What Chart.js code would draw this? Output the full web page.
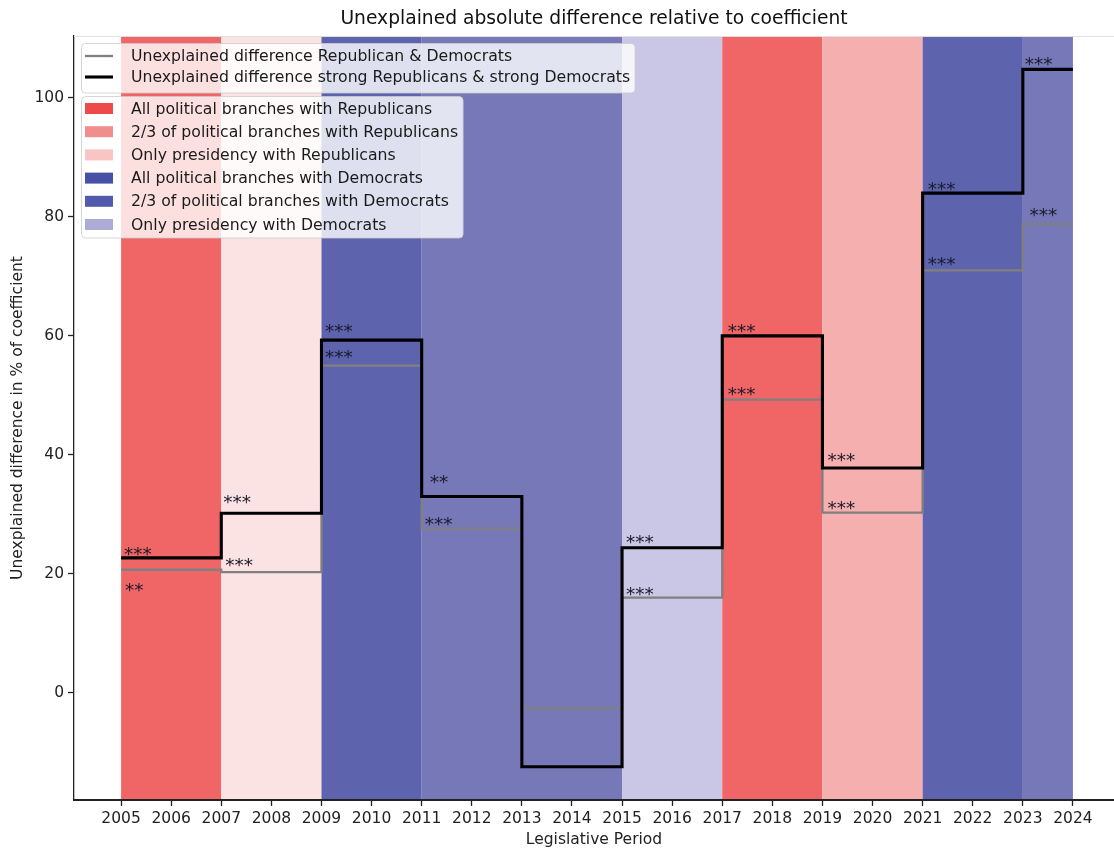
<!DOCTYPE html>
<html>
<head>
<meta charset="utf-8">
<script src="https://cdn.jsdelivr.net/npm/chart.js@4.4.1/dist/chart.umd.min.js"></script>
<style>
  html, body { margin: 0; padding: 0; background: #ffffff; }
  canvas { display: block; }
</style>
</head>
<body>
<canvas id="chart" width="1114" height="850"></canvas>
<script>
// Legislative periods (start year of each step) and the final end year
const periodStarts = [2005, 2007, 2009, 2011, 2013, 2015, 2017, 2019, 2021, 2023];
const periodEnd = 2024;

// Unexplained difference, % of coefficient
const diffAll = [20.7, 20.3, 55.0, 27.6, -2.6, 16.0, 49.3, 30.3, 71.0, 78.8];
const diffStrong = [22.7, 30.2, 59.3, 33.0, -12.4, 24.4, 60.0, 37.8, 84.0, 104.8];

// Significance stars per period
const starsAll = ['**', '***', '***', '***', '', '***', '***', '***', '***', '***'];
const starsStrong = ['***', '***', '***', '**', '', '***', '***', '***', '***', '***'];

// Axis tick values
const yearTicks = [2005, 2006, 2007, 2008, 2009, 2010, 2011, 2012, 2013, 2014,
                   2015, 2016, 2017, 2018, 2019, 2020, 2021, 2022, 2023, 2024];
const valueTicks = [0, 20, 40, 60, 80, 100];

// Political control bands
const bandStarts = [2005, 2007, 2009, 2011, 2015, 2017, 2019, 2021, 2023];
const bandEnds   = [2007, 2009, 2011, 2015, 2017, 2019, 2021, 2023, 2024];
const bandKinds  = [0, 2, 3, 4, 5, 0, 1, 3, 4];
const kindLabels = [
  'All political branches with Republicans',
  '2/3 of political branches with Republicans',
  'Only presidency with Republicans',
  'All political branches with Democrats',
  '2/3 of political branches with Democrats',
  'Only presidency with Democrats'
];

const seriesLabels = [
  'Unexplained difference Republican & Democrats',
  'Unexplained difference strong Republicans & strong Democrats'
];

// ---- styling ----
const FONT = 'DejaVu Sans';
const bandFill   = ['#F06565', '#F6AFAF', '#FCE3E3', '#5D63AD', '#7678B8', '#C9C7E5'];
const swatchFill = ['#EE4A4A', '#F28D8D', '#F9C4C4', '#4651A5', '#525AAB', '#ACACD7'];
const seriesColor = ['#808080', '#000000'];
const seriesWidth = [2.3, 3.1];

// fine placement of the star labels: [dx, dy] in px from the step start
const starNudgeAll = [[5, 15.7], [5, -11.7], [4.5, -13], [4, -9.7], null, [5, -8.7], [6.5, -10], [6, -9], [6, -11.4], [7.6, -13.3]];
const starNudgeStrong = [[4, -9], [3, -16], [4.5, -14], [9, -19.4], null, [5, -10], [6.5, -10], [6, -12.7], [6, -9.3], [3, -10.3]];

function stepPoints(values) {
  const pts = periodStarts.map((x, i) => ({ x: x, y: values[i] }));
  pts.push({ x: periodEnd, y: values[values.length - 1] });
  return pts;
}

const bandsPlugin = {
  id: 'bands',
  beforeDraw(chart) {
    const { ctx, chartArea, scales } = chart;
    ctx.save();
    ctx.fillStyle = '#ffffff';
    ctx.fillRect(0, 0, chart.width, chart.height);
    for (let i = 0; i < bandStarts.length; i++) {
      const x0 = scales.x.getPixelForValue(bandStarts[i]);
      const x1 = scales.x.getPixelForValue(bandEnds[i]);
      ctx.fillStyle = bandFill[bandKinds[i]];
      ctx.fillRect(x0, chartArea.top, x1 - x0, chartArea.bottom - chartArea.top);
    }
    ctx.restore();
  },
  afterDatasetsDraw(chart) {
    const { ctx, chartArea, scales } = chart;
    ctx.save();
    // faint frame line along the top of the plot
    ctx.strokeStyle = '#e2e2e2';
    ctx.lineWidth = 1;
    ctx.beginPath();
    ctx.moveTo(chartArea.left, chartArea.top + 0.5);
    ctx.lineTo(chartArea.right, chartArea.top + 0.5);
    ctx.stroke();

    // significance stars
    const fs = 18.5;
    ctx.font = fs + 'px "' + FONT + '"';
    ctx.fillStyle = '#1a1a2a';
    ctx.textAlign = 'left';
    ctx.textBaseline = 'alphabetic';
    const drawStars = (values, stars, nudge) => {
      for (let i = 0; i < periodStarts.length; i++) {
        if (!stars[i] || !nudge[i]) continue;
        const x = scales.x.getPixelForValue(periodStarts[i]) + nudge[i][0];
        const yc = scales.y.getPixelForValue(values[i]) + nudge[i][1];
        ctx.fillText(stars[i], x - 1, yc + 0.58 * fs);
      }
    };
    drawStars(diffAll, starsAll, starNudgeAll);
    drawStars(diffStrong, starsStrong, starNudgeStrong);
    ctx.restore();
  },
  afterDraw(chart) {
    const { ctx } = chart;
    const fs = 15.7;
    ctx.save();
    ctx.font = fs + 'px "' + FONT + '"';
    const textX = 131;
    const handleX0 = 85, handleX1 = 113;

    const box = (x, y, w, h) => {
      const r = 4;
      ctx.beginPath();
      ctx.moveTo(x + r, y);
      ctx.lineTo(x + w - r, y);
      ctx.quadraticCurveTo(x + w, y, x + w, y + r);
      ctx.lineTo(x + w, y + h - r);
      ctx.quadraticCurveTo(x + w, y + h, x + w - r, y + h);
      ctx.lineTo(x + r, y + h);
      ctx.quadraticCurveTo(x, y + h, x, y + h - r);
      ctx.lineTo(x, y + r);
      ctx.quadraticCurveTo(x, y, x + r, y);
      ctx.closePath();
      ctx.fillStyle = 'rgba(255,255,255,0.8)';
      ctx.fill();
      ctx.strokeStyle = 'rgba(204,204,204,0.8)';
      ctx.lineWidth = 1;
      ctx.stroke();
    };

    // legend for the two step lines
    const w1 = Math.max(...seriesLabels.map(t => ctx.measureText(t).width));
    box(81.5, 43.5, textX + w1 + 5 - 81.5, 49.5);
    const rows1 = [56, 77];
    seriesLabels.forEach((label, i) => {
      ctx.strokeStyle = seriesColor[i];
      ctx.lineWidth = seriesWidth[i];
      ctx.beginPath();
      ctx.moveTo(handleX0, rows1[i]);
      ctx.lineTo(handleX1, rows1[i]);
      ctx.stroke();
      ctx.fillStyle = '#1a1a1a';
      ctx.textBaseline = 'middle';
      ctx.fillText(label, textX, rows1[i] + 1);
    });

    // legend for the political control bands
    const w2 = Math.max(...kindLabels.map(t => ctx.measureText(t).width));
    box(81.5, 96.5, textX + w2 + 5 - 81.5, 141.5);
    kindLabels.forEach((label, i) => {
      const yRow = 108.5 + i * 23.2;
      ctx.fillStyle = swatchFill[i];
      ctx.fillRect(handleX0, yRow - 5.5, handleX1 - handleX0, 11);
      ctx.fillStyle = '#1a1a1a';
      ctx.textBaseline = 'middle';
      ctx.fillText(label, textX, yRow + 1);
    });
    ctx.restore();
  }
};

const tickFont = { family: FONT, size: 15.5 };

new Chart(document.getElementById('chart').getContext('2d'), {
  type: 'line',
  data: {
    datasets: [
      {
        label: seriesLabels[0],
        data: stepPoints(diffAll),
        borderColor: seriesColor[0],
        borderWidth: seriesWidth[0],
        stepped: 'before',
        pointRadius: 0,
        fill: false,
        borderJoinStyle: 'miter',
        order: 1
      },
      {
        label: seriesLabels[1],
        data: stepPoints(diffStrong),
        borderColor: seriesColor[1],
        borderWidth: seriesWidth[1],
        stepped: 'before',
        pointRadius: 0,
        fill: false,
        borderJoinStyle: 'miter',
        order: 0
      }
    ]
  },
  options: {
    responsive: false,
    animation: false,
    devicePixelRatio: 1,
    layout: { padding: 0 },
    plugins: {
      legend: { display: false },
      tooltip: { enabled: false },
      title: {
        display: true,
        fullSize: false,
        text: 'Unexplained absolute difference relative to coefficient',
        color: '#111111',
        font: { family: FONT, size: 18.7, weight: 'normal' },
        padding: { top: 7.8, bottom: 5.8 }
      }
    },
    scales: {
      x: {
        type: 'linear',
        min: 2004.06,
        max: 2024.82,
        afterBuildTicks: s => { s.ticks = yearTicks.map(v => ({ value: v })); },
        afterFit: s => { s.height = 50; },
        ticks: {
          autoSkip: false,
          maxRotation: 0,
          minRotation: 0,
          padding: 4,
          color: '#222222',
          font: tickFont,
          callback: v => String(v)
        },
        grid: {
          drawOnChartArea: false,
          drawTicks: true,
          tickLength: 6,
          tickWidth: 1.3,
          tickColor: '#222222'
        },
        border: { display: true, color: '#222222', width: 2 },
        title: {
          display: true,
          text: 'Legislative Period',
          color: '#222222',
          font: tickFont,
          padding: { top: 0, bottom: 0.5 }
        }
      },
      y: {
        type: 'linear',
        min: -18,
        max: 110.4,
        afterBuildTicks: s => { s.ticks = valueTicks.map(v => ({ value: v })); },
        afterFit: s => { s.width = 74; },
        ticks: {
          padding: 4,
          color: '#222222',
          font: tickFont,
          callback: v => String(v)
        },
        grid: {
          drawOnChartArea: false,
          drawTicks: true,
          tickLength: 6,
          tickWidth: 1.3,
          tickColor: '#222222'
        },
        border: { display: true, color: '#222222', width: 1.3 },
        title: {
          display: true,
          text: 'Unexplained difference in % of coefficient',
          color: '#222222',
          font: tickFont,
          padding: { top: 8.6, bottom: 0 }
        }
      }
    }
  },
  plugins: [bandsPlugin]
});
</script>
</body>
</html>
